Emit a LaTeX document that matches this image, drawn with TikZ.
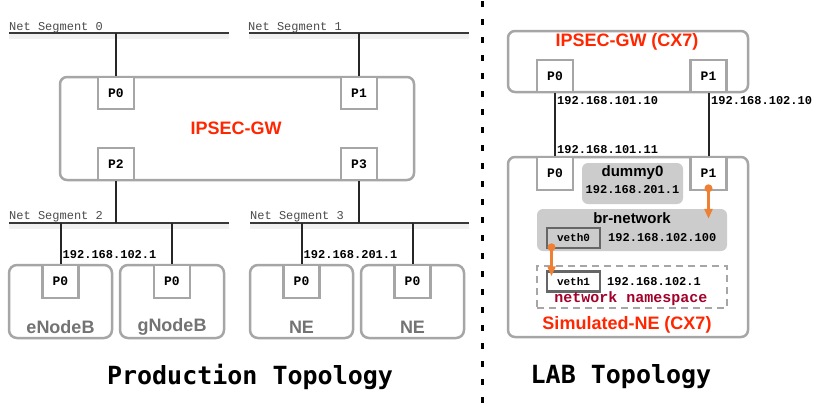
\documentclass[tikz,border=0pt]{standalone}
\usepackage{fontspec}
\usetikzlibrary{arrows.meta}
\newfontfamily\cmono{Liberation Mono}
\newfontfamily\hsans{Liberation Sans}
\newfontfamily\dmono{DejaVu Sans Mono}
\definecolor{boxgray}{HTML}{A6A6A6}
\definecolor{gwred}{HTML}{FF2600}
\definecolor{lblgray}{HTML}{737373}
\definecolor{fillgray}{HTML}{CCCCCC}
\definecolor{vethgray}{HTML}{666666}
\definecolor{nsred}{HTML}{A3002A}
\definecolor{arrorange}{HTML}{EE8033}
\tikzset{
 devbox/.style={draw=boxgray, line width=2.5pt, rounded corners=7pt, inner sep=0pt},
 portbox/.style={draw=boxgray, fill=white, line width=2.5pt, minimum width=36pt, inner sep=0pt, font=\cmono\bfseries\fontsize{13}{13}\selectfont},
 seglabel/.style={anchor=base west, inner sep=0pt, font=\cmono\fontsize{12}{12}\selectfont, text=black!70},
 segline/.style={draw=black!78, line width=2.4pt},
 segshadow/.style={draw=black!6, line width=5pt},
 wire/.style={draw=black!85, line width=2pt},
 iplabel/.style={inner sep=0pt, anchor=base west, font=\cmono\bfseries\fontsize{12}{12}\selectfont},
 redtitle/.style={inner sep=0pt, text=gwred, font=\hsans\bfseries\fontsize{18}{18}\selectfont},
 devlabel/.style={inner sep=0pt, text=lblgray, font=\hsans\bfseries\fontsize{18}{18}\selectfont},
 bigtitle/.style={inner sep=0pt, font=\dmono\bfseries\fontsize{25}{25}\selectfont},
 graypanel/.style={fill=fillgray, rounded corners=6pt, inner sep=0pt},
 vethbox/.style={draw=vethgray, line width=2.5pt, inner sep=0pt, minimum width=53pt, minimum height=20pt, font=\cmono\bfseries\fontsize{11}{11}\selectfont},
 orangearrow/.style={draw=arrorange, line width=2.5pt, -{Triangle[length=10pt,width=8pt]}},
 orangedot/.style={fill=arrorange, circle, inner sep=0pt, minimum size=8pt},
}
\begin{document}
\begin{tikzpicture}[x=1pt,y=-1pt]
\useasboundingbox (0,0) rectangle (823,405);
\fill[white] (0,0) rectangle (823,405);

% ---------------- Production topology ----------------
\coordinate (seg0a) at (9,33);   \coordinate (seg0b) at (229,33);
\coordinate (seg1a) at (249,33); \coordinate (seg1b) at (469,33);
\coordinate (seg2a) at (9,223);  \coordinate (seg2b) at (229,223);
\coordinate (seg3a) at (250,223);\coordinate (seg3b) at (469,223);
\foreach \s in {0,1,2,3}{
  \draw[segshadow] ([yshift=-3pt]seg\s a) -- ([yshift=-3pt]seg\s b);
  \draw[segline] (seg\s a) -- (seg\s b);
}
\node[seglabel] (l0) at (9,30) {Net Segment 0};
\node[seglabel] (l1) at (248,30) {Net Segment 1};
\node[seglabel] (l2) at (9,219) {Net Segment 2};
\node[seglabel] (l3) at (250,219) {Net Segment 3};

\node[devbox, minimum width=354pt, minimum height=103pt] (gw) at (237,128.5) {};
\node[portbox, minimum height=32pt] (gwP0) at (116,93) {P0};
\node[portbox, minimum height=32pt] (gwP1) at (359,93) {P1};
\node[portbox, minimum height=32pt] (gwP2) at (116,164) {P2};
\node[portbox, minimum height=32pt] (gwP3) at (359,164) {P3};
\node[redtitle] (gwt) at (236,128) {IPSEC-GW};

\draw[wire] (gwP0.north |- seg0a) -- (gwP0.north);
\draw[wire] (gwP1.north |- seg1a) -- (gwP1.north);
\draw[wire] (gwP2.south) -- (gwP2.south |- seg2a);
\draw[wire] (gwP3.south) -- (gwP3.south |- seg3a);

\node[devbox, rounded corners=8pt, minimum width=103pt, minimum height=73pt] (enb) at (60.5,301.5) {};
\node[devbox, rounded corners=8pt, minimum width=104pt, minimum height=73pt] (gnb) at (172,301.5) {};
\node[devbox, rounded corners=8pt, minimum width=103pt, minimum height=73pt] (ne1) at (301.5,301.5) {};
\node[devbox, rounded corners=8pt, minimum width=103pt, minimum height=73pt] (ne2) at (412.5,301.5) {};
\node[portbox, minimum height=33pt] (enbP) at (60.5,281.5) {P0};
\node[portbox, minimum height=33pt] (gnbP) at (172,281.5) {P0};
\node[portbox, minimum height=33pt] (ne1P) at (301.5,281.5) {P0};
\node[portbox, minimum height=33pt] (ne2P) at (412.5,281.5) {P0};
\node[devlabel] (enbt) at (60.5,327) {eNodeB};
\node[devlabel] (gnbt) at (172,327) {gNodeB};
\node[devlabel] (ne1t) at (301.5,327) {NE};
\node[devlabel] (ne2t) at (412.5,327) {NE};

\draw[wire] (enbP.north |- seg2a) -- (enbP.north);
\draw[wire] (gnbP.north |- seg2a) -- (gnbP.north);
\draw[wire] (ne1P.north |- seg3a) -- (ne1P.north);
\draw[wire] (ne2P.north |- seg3a) -- (ne2P.north);

\node[iplabel] (ip1) at ([xshift=2pt,yshift=5pt]enbP.north) {192.168.102.1};
\node[iplabel] (ip2) at ([xshift=2pt,yshift=5pt]ne1P.north) {192.168.201.1};

\node[bigtitle] (pt) at (250,377) {Production Topology};

\coordinate (divtop) at (482,0);
\coordinate (divbot) at (482,405);
\draw[line width=3pt, dash pattern=on 6pt off 12pt, dash phase=-1pt] (divtop) -- (divbot);

% ---------------- LAB topology ----------------
\node[devbox, minimum width=240pt, minimum height=61pt] (rgw) at (628,61.5) {};
\node[redtitle] (rgwt) at (627,42) {IPSEC-GW (CX7)};
\node[portbox, minimum height=32pt] (rP0) at (555,76) {P0};
\node[portbox, minimum height=32pt] (rP1) at (708.5,76) {P1};

\node[devbox, minimum width=240pt, minimum height=180pt] (sne) at (628,247) {};
\node[portbox, minimum height=33pt] (sP0) at (555,173.5) {P0};
\node[portbox, minimum height=33pt] (sP1) at (708.5,173.5) {P1};

\draw[wire] (rP0.south) -- (sP0.north);
\draw[wire] (rP1.south) -- (sP1.north);
\node[iplabel] (ipa) at (557,104) {192.168.101.10};
\node[iplabel] (ipb) at (711,104) {192.168.102.10};
\node[iplabel] (ipc) at (557,153) {192.168.101.11};

\node[graypanel, minimum width=101pt, minimum height=41pt] (dummy) at (632.5,183.5) {};
\node[inner sep=0pt, font=\hsans\bfseries\fontsize{15}{15}\selectfont] (dummyt) at (632.5,173) {dummy0};
\node[inner sep=0pt, font=\cmono\bfseries\fontsize{12}{12}\selectfont] (dummyip) at (632.5,190) {192.168.201.1};

\node[graypanel, minimum width=190pt, minimum height=42pt] (br) at (632,230) {};
\node[inner sep=0pt, font=\hsans\bfseries\fontsize{15}{15}\selectfont] (brt) at (632,218) {br-network};
\node[vethbox] (veth0) at (573.5,238) {veth0};
\node[iplabel] (brip) at (608,241) {192.168.102.100};

\node[draw=boxgray, line width=2.5pt, dash pattern=on 7pt off 5pt, inner sep=0pt, minimum width=190pt, minimum height=42pt] (ns) at (632,287) {};
\node[vethbox, fill=white] (veth1) at (573.5,281.5) {veth1};
\node[iplabel] (nsip) at (607,285) {192.168.102.1};
\node[inner sep=0pt, text=nsred, font=\cmono\bfseries\fontsize{15}{15}\selectfont] (nst) at (631,299) {network namespace};

\node[redtitle] (snet) at (627,325) {Simulated-NE (CX7)};

\coordinate (a1s) at ([yshift=3pt]sP1.south);
\coordinate (a1e) at ([yshift=-10pt]sP1.south |- br.north);
\draw[orangearrow] (a1s) -- (a1e);
\node[orangedot] (d1) at (a1s) {};
\coordinate (a2s) at ([xshift=-22pt,yshift=2pt]veth0.south);
\coordinate (a2e) at ([yshift=-6pt]a2s |- veth1.north);
\draw[orangearrow] (a2s) -- (a2e);
\node[orangedot] (d2) at (a2s) {};

\node[bigtitle] (lt) at (621,377) {LAB Topology};
\end{tikzpicture}
\end{document}
